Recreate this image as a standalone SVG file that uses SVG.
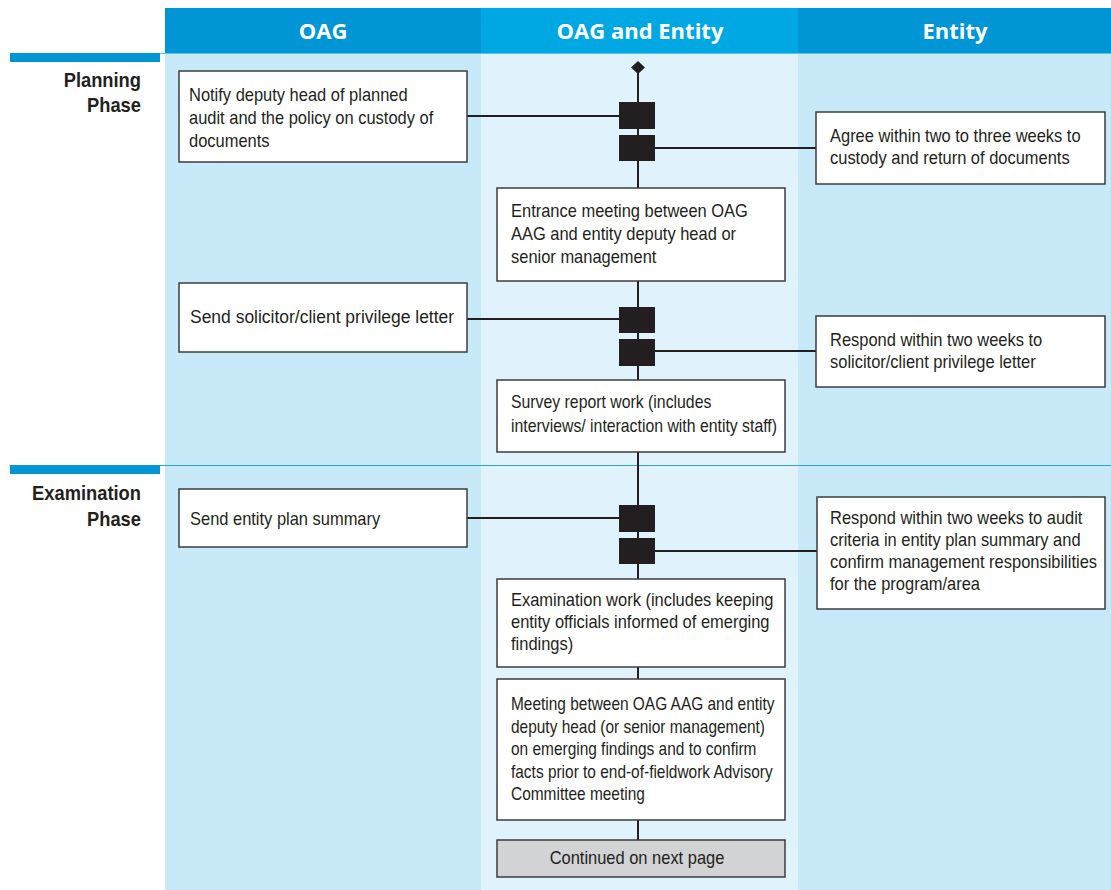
<svg xmlns="http://www.w3.org/2000/svg" width="1111" height="890" viewBox="0 0 1111 890">
<style>
.hdr{font-family:"Open Sans","Liberation Sans",sans-serif;font-weight:700;font-size:22px;fill:#ffffff;text-anchor:middle}
.ph{font-family:"Liberation Sans",Arial,sans-serif;font-weight:700;font-size:19.5px;fill:#231f20;text-anchor:end}
.t{font-family:"Liberation Sans",Arial,sans-serif;font-size:18.5px;fill:#231f20}
.box{fill:#ffffff;stroke:#3c3c3c;stroke-width:1.5}
.grey{fill:#d1d3d4;stroke:#3c3c3c;stroke-width:1.5}
.ln{stroke:#231f20;stroke-width:2;fill:none}
.sq{fill:#231f20}
</style>
<rect x="0" y="0" width="1111" height="890" fill="#ffffff"/>
<g id="background">
<rect x="165" y="53" width="316" height="837" fill="#c7e9f8"/>
<rect x="481" y="53" width="317" height="837" fill="#e0f2fb"/>
<rect x="798" y="53" width="313" height="837" fill="#c7e9f8"/>
<rect x="165" y="8" width="316" height="45" fill="#0096d6"/>
<rect x="481" y="8" width="317" height="45" fill="#00a8e3"/>
<rect x="798" y="8" width="313" height="45" fill="#0096d6"/>
<line x1="160" y1="53.5" x2="1111" y2="53.5" stroke="#5fc0ea" stroke-width="1"/>
<rect x="10" y="53" width="150" height="9" fill="#0096d6"/>
<line x1="160" y1="465.5" x2="1111" y2="465.5" stroke="#2aa5df" stroke-width="1.2"/>
<rect x="10" y="465" width="150" height="9" fill="#0096d6"/>
<text class="hdr" x="323" y="39">OAG</text>
<text class="hdr" x="640" y="39">OAG and Entity</text>
<text class="hdr" x="955" y="39">Entity</text>
<text class="ph" transform="translate(141,0) scale(0.94,1)"><tspan x="0" y="87">Planning</tspan><tspan x="0" y="112">Phase</tspan></text>
<text class="ph" transform="translate(141,0) scale(0.94,1)"><tspan x="0" y="500">Examination</tspan><tspan x="0" y="526">Phase</tspan></text>
</g>
<g id="connectors">
<line class="ln" x1="638" y1="68" x2="638" y2="840"/>
<path d="M638,61 L645,67.5 L638,74 L631,67.5 Z" fill="#231f20"/>
<line class="ln" x1="467" y1="116" x2="619" y2="116"/>
<line class="ln" x1="655" y1="148" x2="816" y2="148"/>
<line class="ln" x1="467" y1="319" x2="619" y2="319"/>
<line class="ln" x1="655" y1="351" x2="816" y2="351"/>
<line class="ln" x1="467" y1="518" x2="619" y2="518"/>
<line class="ln" x1="655" y1="551" x2="817" y2="551"/>
<rect class="sq" x="619" y="102" width="36" height="27"/>
<rect class="sq" x="619" y="135" width="36" height="26"/>
<rect class="sq" x="619" y="307" width="36" height="26"/>
<rect class="sq" x="619" y="339" width="36" height="27"/>
<rect class="sq" x="619" y="505" width="36" height="27"/>
<rect class="sq" x="619" y="538" width="36" height="26"/>
</g>
<g id="notify">
<rect class="box" x="179" y="71" width="288" height="91"/>
<text class="t" transform="translate(189,0) scale(0.89,1)"><tspan x="0" y="101">Notify deputy head of planned</tspan><tspan x="0" y="124">audit and the policy on custody of</tspan><tspan x="0" y="147">documents</tspan></text>
</g>
<g id="agree">
<rect class="box" x="816" y="112" width="289" height="72"/>
<text class="t" transform="translate(830,0) scale(0.89,1)"><tspan x="0" y="142">Agree within two to three weeks to</tspan><tspan x="0" y="164">custody and return of documents</tspan></text>
</g>
<g id="entrance">
<rect class="box" x="497" y="188" width="288" height="93"/>
<text class="t" transform="translate(511,0) scale(0.89,1)"><tspan x="0" y="217">Entrance meeting between OAG</tspan><tspan x="0" y="240">AAG and entity deputy head or</tspan><tspan x="0" y="263">senior management</tspan></text>
</g>
<g id="send-letter">
<rect class="box" x="179" y="283" width="288" height="69"/>
<text class="t" transform="translate(190,0) scale(0.945,1)"><tspan x="0" y="323">Send solicitor/client privilege letter</tspan></text>
</g>
<g id="respond-letter">
<rect class="box" x="816" y="316" width="289" height="71"/>
<text class="t" transform="translate(830,0) scale(0.89,1)"><tspan x="0" y="346">Respond within two weeks to</tspan><tspan x="0" y="368">solicitor/client privilege letter</tspan></text>
</g>
<g id="survey">
<rect class="box" x="497" y="380" width="288" height="72"/>
<text class="t" transform="translate(511,0) scale(0.855,1)"><tspan x="0" y="408">Survey report work (includes</tspan><tspan x="0" y="432">interviews/ interaction with entity staff)</tspan></text>
</g>
<g id="send-plan">
<rect class="box" x="179" y="489" width="288" height="58"/>
<text class="t" transform="translate(190,0) scale(0.89,1)"><tspan x="0" y="525">Send entity plan summary</tspan></text>
</g>
<g id="respond-plan">
<rect class="box" x="817" y="497" width="288" height="112"/>
<text class="t" transform="translate(830,0) scale(0.89,1)"><tspan x="0" y="524">Respond within two weeks to audit</tspan><tspan x="0" y="546">criteria in entity plan summary and</tspan><tspan x="0" y="568">confirm management responsibilities</tspan><tspan x="0" y="590">for the program/area</tspan></text>
</g>
<g id="examination">
<rect class="box" x="497" y="579" width="288" height="88"/>
<text class="t" transform="translate(511,0) scale(0.89,1)"><tspan x="0" y="606">Examination work (includes keeping</tspan><tspan x="0" y="628">entity officials informed of emerging</tspan><tspan x="0" y="650">findings)</tspan></text>
</g>
<g id="meeting">
<rect class="box" x="497" y="679" width="288" height="141"/>
<text class="t" transform="translate(511,0) scale(0.835,1)"><tspan x="0" y="710">Meeting between OAG AAG and entity</tspan><tspan x="0" y="733">deputy head (or senior management)</tspan><tspan x="0" y="755">on emerging findings and to confirm</tspan><tspan x="0" y="778">facts prior to end-of-fieldwork Advisory</tspan><tspan x="0" y="800">Committee meeting</tspan></text>
</g>
<g id="continued">
<rect class="grey" x="497" y="840" width="288" height="37"/>
<text class="t" transform="translate(637,0) scale(0.89,1)" text-anchor="middle"><tspan x="0" y="864">Continued on next page</tspan></text>
</g>
</svg>
